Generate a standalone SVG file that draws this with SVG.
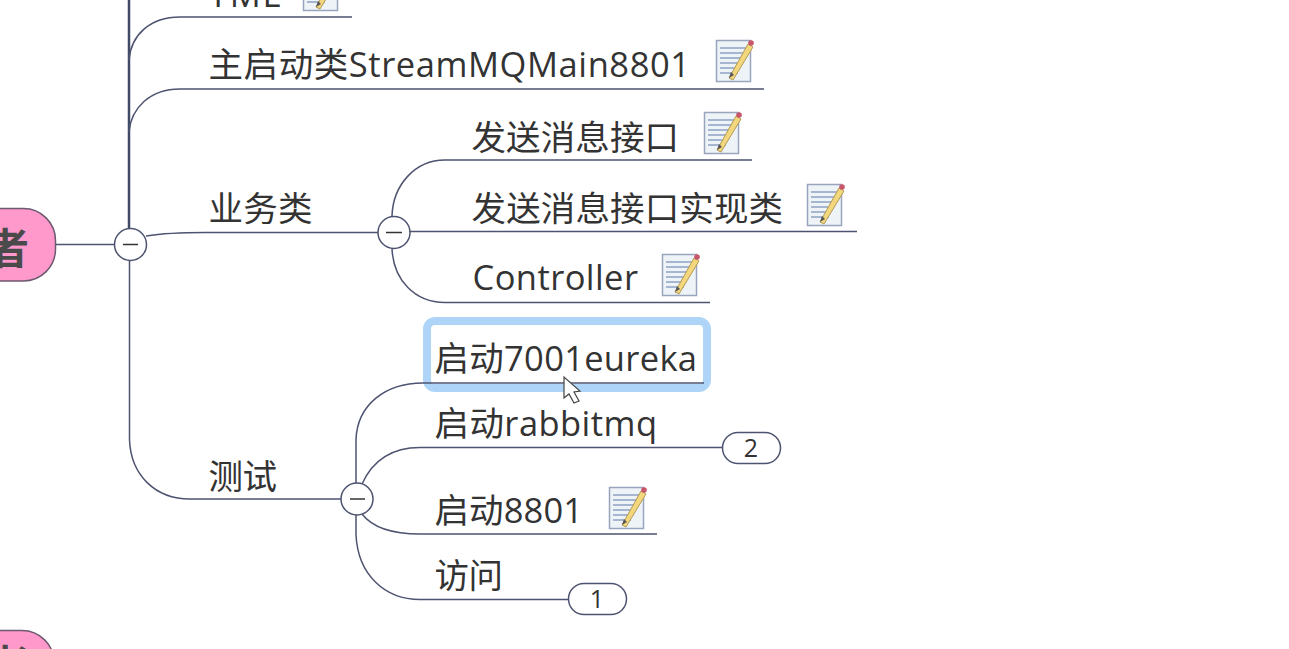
<svg xmlns="http://www.w3.org/2000/svg" xmlns:xlink="http://www.w3.org/1999/xlink" width="1289" height="649" viewBox="0 0 1289 649">
<style>
text{font-family:"Open Sans","Noto Sans CJK SC","Noto Sans",sans-serif;font-size:34.500px;fill:#333}
.c{fill:none;stroke:#4d5370;stroke-width:1.5}
.t{stroke:#3f4a66;stroke-width:2.5}
.tog{fill:#fff;stroke:#4d5370;stroke-width:1.5}
.minus{stroke:#333;stroke-width:1.5}
.badge{fill:#fff;stroke:#4d5370;stroke-width:1.5}
.bt{font-size:25px;text-anchor:middle}
.root{fill:#ff99cc;stroke:#6d5a70;stroke-width:1.5}
.rt{font-size:42px;font-weight:700;fill:#4a4a4a}
</style>
<defs>
<g id="note">
<rect x="0.5" y="0.5" width="34" height="41" fill="#eef3f8" stroke="#98a5bd" stroke-width="1.5"/>
<path d="M4 8H30M4 13H30M4 18H28M4 23H26M4 28H24M4 33H22" stroke="#8fa1c2" stroke-width="1.3" fill="none"/>
<path d="M13 38L32 4L37 7L17 40Z" fill="#f3d77c" stroke="#b39a55" stroke-width="1"/>
<path d="M13 38L15 32L18 35Z" fill="#555"/>
<circle cx="35" cy="3" r="2.800" fill="#c8566a"/>
</g>
</defs>
<rect width="1289" height="649" fill="#fff"/>
<g id="connectors">
<path class="c t" d="M129 0V228"/>
<path class="c" d="M129 60C131 35 150 17 180 17H352"/>
<path class="c" d="M129 132C131 108 150 89 180 89H764"/>
<path class="c" d="M55 244.500H114"/>
<path class="c" d="M146 236C165 233 180 232.500 205 232.500H378"/>
<path class="c" d="M129.500 260V440C131 475 155 499 190 499H341"/>
<path class="c" d="M392 216C393 185 415 160 445 160H752"/>
<path class="c" d="M410 231.500H857"/>
<path class="c" d="M392 248C393 280 415 302.500 445 302.500H710"/>
<path class="c" d="M356 483V440C357 405 385 383 423 383"/>
<path class="c" d="M362 484C372 462 390 447.500 420 447.500H722"/>
<path class="c" d="M362 514C372 527 390 534 420 534H657"/>
<path class="c" d="M356 515V535C358 575 385 599.500 420 599.500H568"/>
</g>
<g id="node-root-top">
<rect class="root" x="-60" y="208.500" width="115.500" height="72.500" rx="32"/>
<text class="rt" x="-13" y="264">者</text>
</g>
<g id="node-root-bottom">
<rect class="root" x="-60" y="630.500" width="114" height="72" rx="32"/>
<text class="rt" x="-13" y="681">者</text>
</g>
<g id="node-yml"><text x="208.500" y="7" textLength="72">YML</text><use href="#note" x="303" y="-31"/></g>
<g id="node-main"><text x="208.500" y="77" textLength="481.500">主启动类StreamMQMain8801</text><use href="#note" x="716" y="40"/></g>
<g id="node-biz"><text x="208.500" y="221" textLength="104">业务类</text></g>
<g id="node-send"><text x="471.500" y="150" textLength="207.500">发送消息接口</text><use href="#note" x="704" y="112"/></g>
<g id="node-impl"><text x="471.500" y="221" textLength="311.500">发送消息接口实现类</text><use href="#note" x="807" y="184"/></g>
<g id="node-controller"><text x="472.500" y="290" textLength="165.500">Controller</text><use href="#note" x="662" y="254"/></g>
<g id="node-test"><text x="208.500" y="489" textLength="68.500">测试</text></g>
<g id="node-eureka">
<rect x="427" y="321" width="280" height="67" rx="8" fill="none" stroke="#aed5f8" stroke-width="8"/>
<path class="c" d="M423 383H704"/>
<text x="434.500" y="371" textLength="262.500">启动7001eureka</text>
</g>
<g id="node-rabbit"><text x="434.500" y="436" textLength="222.500">启动rabbitmq</text>
<rect class="badge" x="722.500" y="432.500" width="58" height="31" rx="15.500"/><text class="bt" x="751" y="457">2</text></g>
<g id="node-8801"><text x="434.500" y="523" textLength="148.500">启动8801</text><use href="#note" x="609" y="487"/></g>
<g id="node-visit"><text x="434.500" y="588" textLength="68.500">访问</text>
<rect class="badge" x="568.500" y="583.500" width="58" height="31" rx="15.500"/><text class="bt" x="597" y="608">1</text></g>
<g id="toggle-1"><circle class="tog" cx="130.500" cy="244.500" r="16"/><path class="minus" d="M123 244.500H138"/></g>
<g id="toggle-2"><circle class="tog" cx="394" cy="232.500" r="16"/><path class="minus" d="M386 232.500H402"/></g>
<g id="toggle-3"><circle class="tog" cx="357" cy="499" r="16"/><path class="minus" d="M350 499H365"/></g>
<path id="cursor" d="M564 377V398L569 394L574 403L579 401L574 392L580 391Z" fill="#fff" stroke="#444" stroke-width="1.200"/>
</svg>
